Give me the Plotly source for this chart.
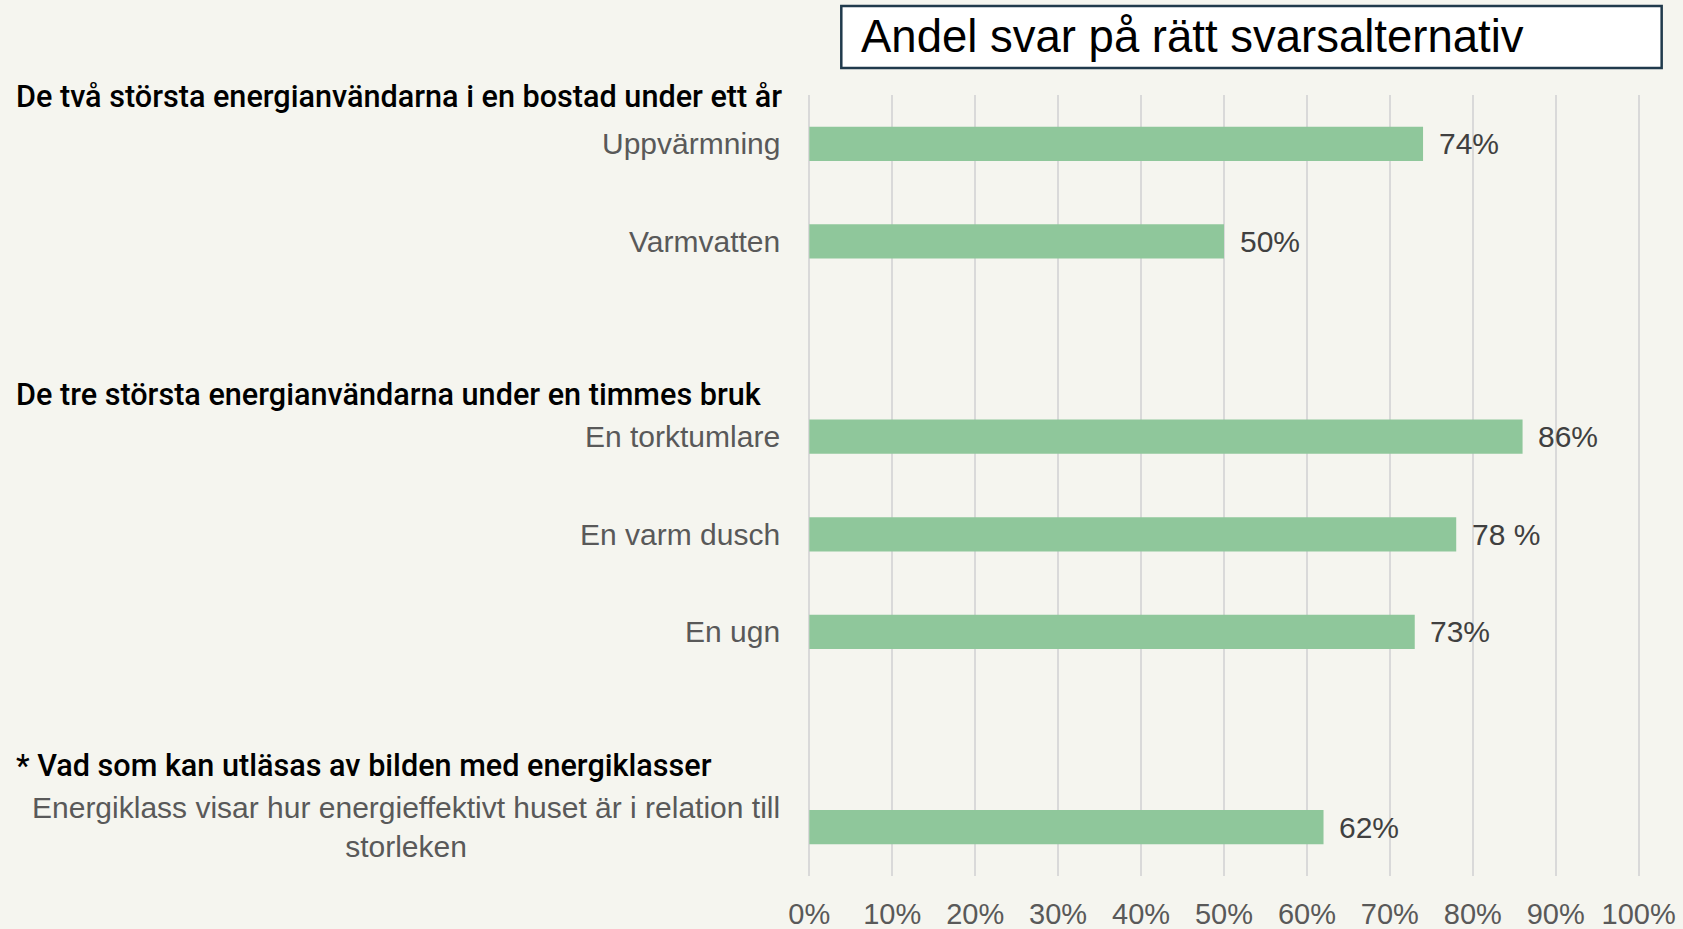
import plotly.graph_objects as go

# ---------------- data ----------------
categories = [
    "Uppvärmning",
    "Varmvatten",
    " ",
    "En torktumlare",
    "En varm dusch",
    "En ugn",
    "  ",
    "Energiklass visar hur energieffektivt huset är i relation till<br>storleken",
]
values = [0.74, 0.50, None, 0.86, 0.78, 0.73, None, 0.62]
value_labels = ["74%", "50%", "", "86%", "78 %", "73%", "", "62%"]

group_headers = [
    "De två största energianvändarna i en bostad under ett år",
    "De tre största energianvändarna under en timmes bruk",
    "* Vad som kan utläsas av bilden med energiklasser",
]

tick_vals = [0, 0.1, 0.2, 0.3, 0.4, 0.5, 0.6, 0.7, 0.8, 0.9, 1.0]
tick_text = ["0%", "10%", "20%", "30%", "40%", "50%", "60%", "70%", "80%", "90%", "100%"]

chart_title = "Andel svar på rätt svarsalternativ"

# ---------------- style / layout ----------------
BG = "#f5f5ef"
BAR = "#8fc79b"
LABEL_GRAY = "#595959"
VALUE_GRAY = "#404040"
LABEL_FONT = "Liberation Sans, Arial, sans-serif"
HEADER_FONT = "Roboto, Liberation Sans, Arial, sans-serif"

W, H = 1683, 929
PLOT_TOP, PLOT_BOTTOM = 95, 876
X0_PX, X100_PX = 809, 1639
X_PAD = 0.004
unit = X100_PX - X0_PX
pw = unit * (1 + 2 * X_PAD)
left = X0_PX - unit * X_PAD
ph = PLOT_BOTTOM - PLOT_TOP


def px_x(px):
    return (px - left) / pw


def px_y(py):
    return (PLOT_BOTTOM - py) / ph


header_centers_px = [96.6, 394, 765]

fig = go.Figure()
fig.add_trace(go.Bar(
    x=values,
    y=categories,
    orientation="h",
    width=0.35,
    marker=dict(color=BAR, line=dict(width=0)),
    hoverinfo="skip",
))

annotations = []
# category labels
for cat, v in zip(categories, values):
    if v is None:
        continue
    annotations.append(dict(
        x=0, y=cat, xref="x", yref="y",
        text=cat, showarrow=False,
        xanchor="right", yanchor="middle", xshift=-27,
        align="center",
        font=dict(family=LABEL_FONT, size=30, color=LABEL_GRAY),
    ))
# value labels
for cat, v, lab in zip(categories, values, value_labels):
    if v is None:
        continue
    annotations.append(dict(
        x=v, y=cat, xref="x", yref="y",
        text=lab, showarrow=False,
        xanchor="left", yanchor="middle", xshift=13.5,
        font=dict(family=LABEL_FONT, size=30, color=VALUE_GRAY),
    ))
# group headers
for h, hy in zip(group_headers, header_centers_px):
    annotations.append(dict(
        x=px_x(13), y=px_y(hy), xref="paper", yref="paper",
        text=h, showarrow=False,
        xanchor="left", yanchor="middle",
        font=dict(family=HEADER_FONT, size=30.6, color="#000000", weight=500),
    ))
# title text
annotations.append(dict(
    x=px_x(859), y=px_y(37), xref="paper", yref="paper",
    text=chart_title, showarrow=False,
    xanchor="left", yanchor="middle",
    font=dict(family=LABEL_FONT, size=45.5, color="#000000"),
))

fig.update_layout(
    width=W, height=H,
    margin=dict(l=left, r=W - left - pw, t=PLOT_TOP, b=H - PLOT_BOTTOM, autoexpand=False),
    paper_bgcolor=BG, plot_bgcolor=BG,
    showlegend=False,
    annotations=annotations,
    shapes=[dict(
        type="rect", xref="paper", yref="paper",
        x0=px_x(841), x1=px_x(1662), y0=px_y(68), y1=px_y(6),
        fillcolor="#ffffff", line=dict(color="#203a4c", width=2.5),
        layer="above",
    )],
    xaxis=dict(
        range=[-X_PAD, 1 + X_PAD],
        tickvals=tick_vals, ticktext=tick_text,
        showgrid=True, gridcolor="#d9d9d9", gridwidth=2,
        zeroline=False, showline=False, ticks="",
        ticklabelstandoff=18, automargin=False,
        tickfont=dict(family=LABEL_FONT, size=29, color=LABEL_GRAY),
        fixedrange=True,
    ),
    yaxis=dict(
        categoryorder="array", categoryarray=categories,
        range=[7.5, -0.5], automargin=False,
        showticklabels=False, showgrid=False, zeroline=False,
        showline=False, ticks="",
        fixedrange=True,
    ),
)

fig.write_html(
    "out.html",
    config={"displayModeBar": False},
    post_script="document.body.style.margin='0';document.body.style.overflow='hidden';",
)
